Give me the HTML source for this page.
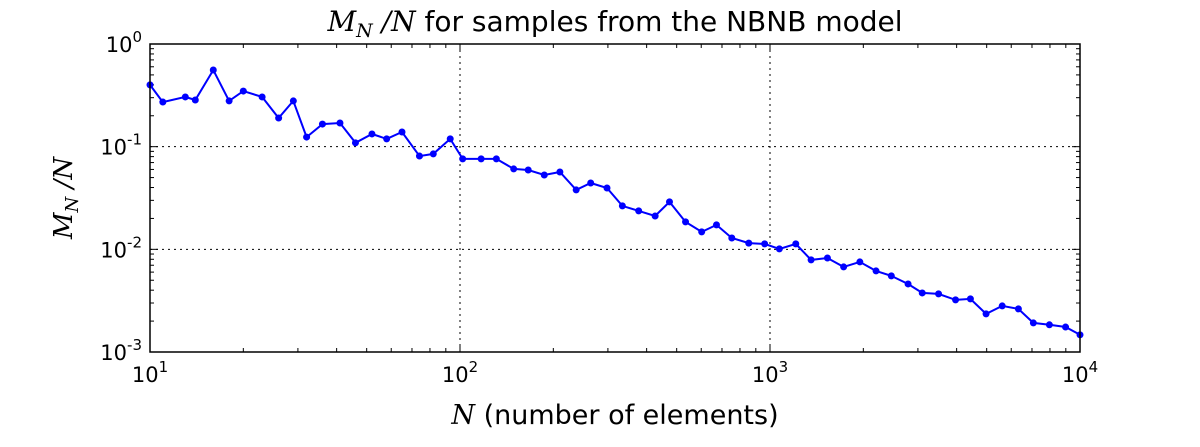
<!DOCTYPE html>
<html><head><meta charset="utf-8"><style>
body{margin:0;background:#fff;}
svg text{font-family:"DejaVu Sans","Liberation Sans",sans-serif;fill:#000;}
.m{font-family:"DejaVu Serif","Liberation Serif",serif;font-style:italic;}
</style></head><body>
<svg id="chart" width="1200" height="442" xmlns="http://www.w3.org/2000/svg">
<rect width="1200" height="442" fill="#fff"/>
<g id="grid"></g><g id="ticks"></g><g id="series"></g>
<rect x="150" y="44" width="930" height="308" fill="none" stroke="#000" stroke-width="1.5"/>
<g id="labels"></g>
<text x="615" y="31" text-anchor="middle" font-size="28"><tspan class="m">M</tspan><tspan class="m" font-size="19" dy="6">N</tspan><tspan dy="-6"> </tspan><tspan class="m">/N</tspan> for samples from the NBNB model</text>
<text x="615" y="424" text-anchor="middle" font-size="27"><tspan class="m">N</tspan>  (number of elements)</text>
<text transform="translate(72,198) rotate(-90)" text-anchor="middle" font-size="26"><tspan class="m">M</tspan><tspan class="m" font-size="18" dy="6">N</tspan><tspan dy="-6" class="m"> /N</tspan></text>
</svg>
<script>
const nValues=[10,11,13,14,16,18,20,23,26,29,32,36,41,46,52,58,65,74,82,93,102,117,131,149,166,187,210,237,264,298,334,377,426,474,534,602,672,753,854,961,1072,1211,1357,1532,1728,1949,2198,2462,2789,3098,3497,3968,4431,4977,5612,6328,7071,7966,8983,10000];
const ratioValues=[0.40,0.272,0.305,0.285,0.558,0.279,0.348,0.305,0.190,0.279,0.124,0.166,0.170,0.109,0.133,0.119,0.139,0.081,0.085,0.119,0.076,0.076,0.076,0.0607,0.0593,0.0530,0.0567,0.0379,0.0443,0.0396,0.0265,0.0237,0.0211,0.0290,0.0185,0.0148,0.0173,0.0129,0.0115,0.0113,0.0101,0.0113,0.00789,0.00824,0.00674,0.00754,0.00616,0.00551,0.00460,0.00376,0.00368,0.00322,0.00329,0.00235,0.00281,0.00263,0.00192,0.00184,0.00175,0.00147];
const xTickExps=[1,2,3,4];
const yTickExps=[0,-1,-2,-3];
const X0=150,X1=1080,Y0=44,Y1=352;
function xs(v){return X0+(Math.log10(v)-1)/3*(X1-X0);}
function ys(v){return Y0+(0-Math.log10(v))/3*(Y1-Y0);}
const NS="http://www.w3.org/2000/svg";
function mk(t,a,p){const e=document.createElementNS(NS,t);for(const k in a)e.setAttribute(k,a[k]);p.appendChild(e);return e;}
const grid=document.getElementById('grid'),ticks=document.getElementById('ticks'),labels=document.getElementById('labels'),ser=document.getElementById('series');
xTickExps.forEach(e=>{const x=xs(Math.pow(10,e));
 if(e>1&&e<4){const g=mk('line',{x1:x,x2:x,y1:Y0,y2:Y1,stroke:'#000','stroke-dasharray':'2,4'},grid);
 
 }
 mk('line',{x1:x,x2:x,y1:Y1,y2:Y1-8,stroke:'#000'},ticks);mk('line',{x1:x,x2:x,y1:Y0,y2:Y0+8,stroke:'#000'},ticks);
 const t=mk('text',{x:x,y:382,'text-anchor':'middle','font-size':'21'},labels);
 
 
 t.innerHTML='10<tspan font-size="15" dy="-10">'+e+'</tspan>';
 if(e<4)for(let m=2;m<10;m++){const xm=xs(m*Math.pow(10,e));mk('line',{x1:xm,x2:xm,y1:Y1,y2:Y1-4,stroke:'#000'},ticks);mk('line',{x1:xm,x2:xm,y1:Y0,y2:Y0+4,stroke:'#000'},ticks);}
});
yTickExps.forEach(e=>{const y=ys(Math.pow(10,e));
 if(e<0&&e>-3){const g=mk('line',{x1:X0,x2:X1,y1:y,y2:y,stroke:'#000','stroke-dasharray':'2,4'},grid);
 
 }
 mk('line',{x1:X0,x2:X0+8,y1:y,y2:y,stroke:'#000'},ticks);mk('line',{x1:X1,x2:X1-8,y1:y,y2:y,stroke:'#000'},ticks);
 const t=mk('text',{x:142,y:y+8,'text-anchor':'end','font-size':'21'},labels);
 
 
 t.innerHTML='10<tspan font-size="15" dy="-10">'+e+'</tspan>';
 if(e>-3)for(let m=2;m<10;m++){const ym=ys(m*Math.pow(10,e-1));mk('line',{x1:X0,x2:X0+4,y1:ym,y2:ym,stroke:'#000'},ticks);mk('line',{x1:X1,x2:X1-4,y1:ym,y2:ym,stroke:'#000'},ticks);}
});
const pts=nValues.map((n,i)=>xs(n).toFixed(1)+','+ys(ratioValues[i]).toFixed(1)).join(' ');
const line=mk('polyline',{points:pts,fill:'none',stroke:'#0000ff','stroke-width':'2'},ser);


nValues.forEach((n,i)=>{const c=mk('circle',{cx:xs(n),cy:ys(ratioValues[i]),r:3.5,fill:'#0000ff'},ser);
 
 });
</script>
</body></html>
